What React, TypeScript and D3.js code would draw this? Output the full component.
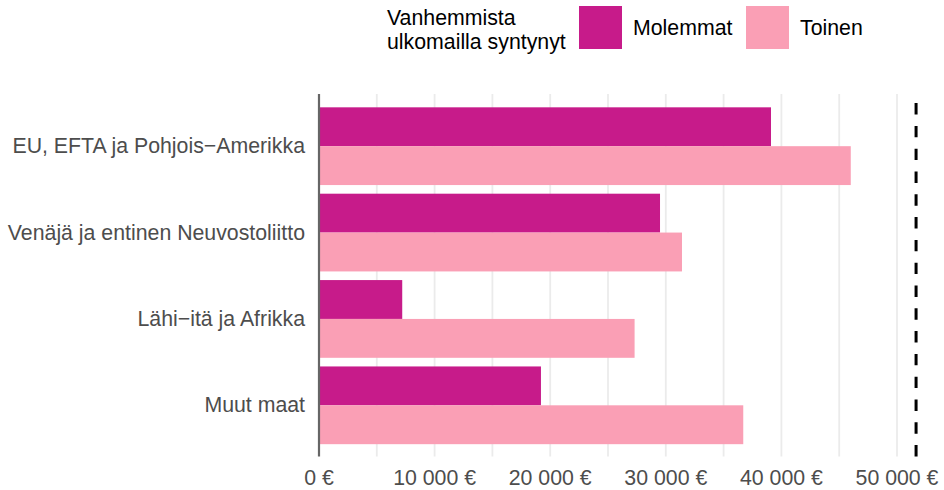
import React from "react";
import * as d3 from "d3";

const categories = [
  "EU, EFTA ja Pohjois−Amerikka",
  "Venäjä ja entinen Neuvostoliitto",
  "Lähi−itä ja Afrikka",
  "Muut maat",
];
const seriesNames = ["Molemmat", "Toinen"];
const molemmat = [39100, 29500, 7200, 19200];
const toinen = [46000, 31400, 27300, 36700];
const referenceValue = 51650;
const xTicks = [0, 10000, 20000, 30000, 40000, 50000];
const minorTicks = [5000, 15000, 25000, 35000, 45000];
const legendTitle = ["Vanhemmista", "ulkomailla syntynyt"];
const colors = ["#c71b8a", "#fa9fb5"];

const fmt = (v: number) =>
  (v === 0 ? "0" : d3.format(",")(v).replace(/,/g, " ")) + " €";

export default function App() {
  const W = 944, H = 490;
  const left = 319;
  const top = 94, bottom = 456.5;
  const x = d3.scaleLinear().domain([0, 53400]).range([left, left + 53400 * 0.01156]);
  const band = d3
    .scaleBand<string>()
    .domain(categories)
    .range([103, 448.5])
    .paddingInner(0.1)
    .paddingOuter(0.05);
  const sub = d3.scaleBand<string>().domain(seriesNames).range([0, band.bandwidth()]);
  const series = [molemmat, toinen];
  const font = "Liberation Sans, Arial, sans-serif";
  const fs = 21.3;

  return (
    <svg width={W} height={H} style={{ position: "absolute", left: 0, top: 0 }} fontFamily={font}>
      <rect width={W} height={H} fill="#fff" />
      {[...minorTicks, ...xTicks.slice(1)].map((t) => (
        <line key={"g" + t} x1={x(t)} x2={x(t)} y1={top} y2={bottom} stroke="#ebebeb" strokeWidth={1.8} />
      ))}
      {categories.map((c, i) =>
        series.map((s, j) => (
          <rect
            key={c + j}
            x={x(0)}
            y={(band(c) as number) + (sub(seriesNames[j]) as number)}
            width={x(s[i]) - x(0)}
            height={sub.bandwidth()}
            fill={colors[j]}
          />
        ))
      )}
      <line x1={x(0)} x2={x(0)} y1={top} y2={bottom} stroke="#666" strokeWidth={2.2} />
      <line
        x1={x(referenceValue)}
        x2={x(referenceValue)}
        y1={bottom}
        y2={top}
        stroke="#000"
        strokeWidth={3}
        strokeDasharray="11.4 11.4"
      />
      {categories.map((c) => (
        <text
          key={"l" + c}
          x={305}
          y={(band(c) as number) + band.bandwidth() / 2}
          textAnchor="end"
          dominantBaseline="central"
          fontSize={fs}
          fill="#4d4d4d"
        >
          {c}
        </text>
      ))}
      {xTicks.map((t) => (
        <text key={"t" + t} x={x(t)} y={478} textAnchor="middle" dominantBaseline="central" fontSize={fs} fill="#4d4d4d">
          {fmt(t)}
        </text>
      ))}
      {legendTitle.map((l, i) => (
        <text key={"lt" + i} x={387} y={18 + i * 24} dominantBaseline="central" fontSize={fs} fill="#000">
          {l}
        </text>
      ))}
      {seriesNames.map((n, i) => {
        const kx = i === 0 ? 579 : 746;
        return (
          <g key={"k" + n}>
            <rect x={kx} y={6} width={43} height={43} fill={colors[i]} />
            <text x={kx + 54} y={28} dominantBaseline="central" fontSize={fs} fill="#000">
              {n}
            </text>
          </g>
        );
      })}
    </svg>
  );
}
